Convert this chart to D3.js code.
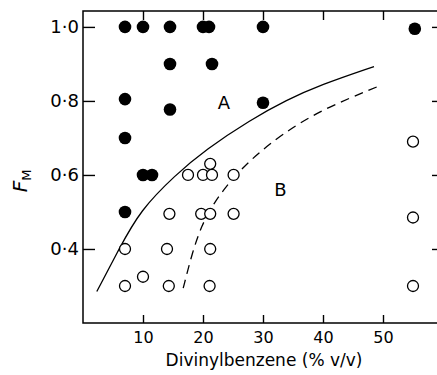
<!DOCTYPE html>
<html>
<head>
<meta charset="utf-8">
<script src="https://cdn.jsdelivr.net/npm/d3@7"></script>
<style>
  body { margin: 0; background: #fff; }
  svg { display: block; }
  text { font-family: "DejaVu Sans", sans-serif; fill: #000; }
</style>
</head>
<body>
<svg id="chart" width="437" height="375"></svg>
<script>
// filled circles (region A) : [divinylbenzene %, F_M]
const filledPts = [
  [7, 1.0], [10, 1.0], [14.5, 1.0], [20, 1.0], [21, 1.0], [30, 1.0], [55.3, 0.995],
  [14.5, 0.9], [21.5, 0.9],
  [7, 0.805], [30, 0.795], [14.5, 0.777],
  [7, 0.70],
  [10, 0.6], [11.5, 0.6],
  [7, 0.5]
];
// open circles (region B)
const openPts = [
  [21.2, 0.63],
  [17.5, 0.6], [20, 0.6], [21.5, 0.6], [25.1, 0.6],
  [14.4, 0.495], [19.7, 0.495], [21.2, 0.495], [25.1, 0.495],
  [7, 0.4], [14, 0.4], [21.2, 0.4],
  [7, 0.3], [10, 0.325], [14.3, 0.3], [21.1, 0.3],
  [55, 0.69], [55, 0.485], [55, 0.30]
];
// boundary curves
const solidCurve = [
  [2.3, 0.285], [6, 0.4], [9.55, 0.505], [15.4, 0.6], [20.4, 0.668],
  [27.9, 0.749], [34, 0.803], [39.5, 0.843], [48.5, 0.893]
];
const dashedCurve = [
  [16.7, 0.294], [18.2, 0.39], [19.8, 0.465], [21.8, 0.525], [25.1, 0.595],
  [28.7, 0.652], [33, 0.708], [39.5, 0.775], [49.3, 0.84]
];
const xTicks = [10, 20, 30, 40, 50];
const yTicks = [0.4, 0.6, 0.8, 1.0];
const regionLabels = [["A", 23.5, 0.795], ["B", 32.9, 0.56]];

const svg = d3.select("#chart");
const x = d3.scaleLinear().domain([0, 59]).range([83, 437]);
const y = d3.scaleLinear().domain([0.2, 1.043]).range([323, 11]);
const fmtY = d => d3.format(".1f")(d).replace(".", "·");

// frame
svg.append("path")
  .attr("d", `M${x(59)},${y(1.043)}H${x(0)}V${y(0.2)}H${x(59)}`)
  .attr("fill", "none").attr("stroke", "#000").attr("stroke-width", 1.5);

const styleAxis = g => {
  g.select(".domain").remove();
  g.selectAll("line").attr("stroke", "#000").attr("stroke-width", 1.4);
  g.selectAll("text").attr("font-family", "DejaVu Sans, sans-serif").attr("fill", "#000");
};

svg.append("g").attr("transform", `translate(0,${y(0.2)})`)
  .call(d3.axisBottom(x).tickValues(xTicks).tickSize(-8).tickPadding(9).tickFormat(d3.format("d")))
  .call(styleAxis)
  .selectAll("text").attr("font-size", 16);

svg.append("g").attr("transform", `translate(0,${y(1.043)})`)
  .call(d3.axisTop(x).tickValues(xTicks).tickSize(-9).tickFormat(""))
  .call(styleAxis);

svg.append("g").attr("transform", `translate(${x(0)},0)`)
  .call(d3.axisLeft(y).tickValues(yTicks).tickSize(-12).tickPadding(4).tickFormat(fmtY))
  .call(styleAxis)
  .selectAll("text").attr("font-size", 18);

svg.append("g").attr("transform", `translate(${x(59)},0)`)
  .call(d3.axisRight(y).tickValues(yTicks).tickSize(-5).tickFormat(""))
  .call(styleAxis);

// curves
const line = d3.line().x(d => x(d[0])).y(d => y(d[1])).curve(d3.curveBasis);
svg.append("path").datum(solidCurve).attr("d", line)
  .attr("fill", "none").attr("stroke", "#000").attr("stroke-width", 1.3);
svg.append("path").datum(dashedCurve).attr("d", line)
  .attr("fill", "none").attr("stroke", "#000").attr("stroke-width", 1.3)
  .attr("stroke-dasharray", "9,6");

// points
svg.append("g").selectAll("circle").data(openPts).join("circle")
  .attr("cx", d => x(d[0])).attr("cy", d => y(d[1])).attr("r", 5.5)
  .attr("fill", "#fff").attr("stroke", "#000").attr("stroke-width", 1.3);
svg.append("g").selectAll("circle").data(filledPts).join("circle")
  .attr("cx", d => x(d[0])).attr("cy", d => y(d[1])).attr("r", 6.3)
  .attr("fill", "#000");

// region labels
svg.append("g").selectAll("text").data(regionLabels).join("text")
  .attr("x", d => x(d[1])).attr("y", d => y(d[2]))
  .attr("text-anchor", "middle").attr("dominant-baseline", "central")
  .attr("font-size", 18)
  .text(d => d[0]);

// axis titles
svg.append("text")
  .attr("x", 264).attr("y", 366)
  .attr("text-anchor", "middle").attr("font-size", 17)
  .text("Divinylbenzene (% v/v)");

const yt = svg.append("text")
  .attr("transform", "translate(27,181) rotate(-90)")
  .attr("text-anchor", "middle").attr("font-size", 20);
yt.append("tspan").attr("font-style", "italic").text("F");
yt.append("tspan").attr("font-size", 13).attr("dy", 4).text("M");
</script>
</body>
</html>
